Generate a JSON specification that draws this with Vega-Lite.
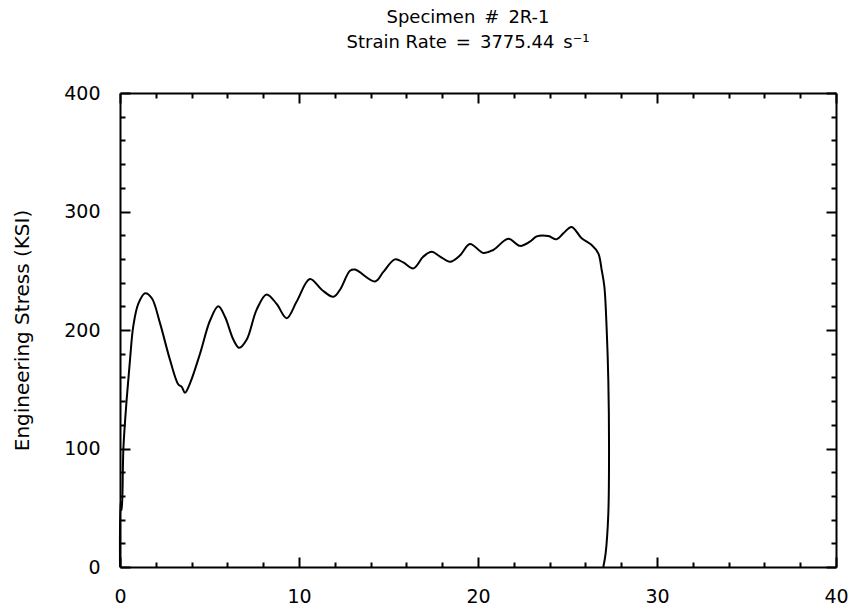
{
  "$schema": "https://vega.github.io/schema/vega-lite/v6.json",
  "autosize": {"type": "none"},
  "width": 716,
  "height": 474,
  "padding": {"left": 120, "top": 93, "right": 18, "bottom": 44},
  "background": "white",
  "config": {"view": {"stroke": null}, "font": "DejaVu Sans"},
  "title": {
    "text": ["Specimen\u2002#\u20022R-1", "Strain Rate\u2002=\u20023775.44\u2002s⁻¹"],
    "anchor": "middle",
    "frame": "group",
    "fontSize": 18,
    "fontWeight": "normal",
    "font": "DejaVu Sans",
    "color": "black",
    "lineHeight": 25,
    "offset": 32,
    "dx": -10
  },
  "data": {
    "values": [
      {"i": 0, "strain": 0, "stress": 0},
      {"i": 1, "strain": 0.03, "stress": 55},
      {"i": 2, "strain": 0.1, "stress": 48},
      {"i": 3, "strain": 0.19, "stress": 100},
      {"i": 4, "strain": 0.37, "stress": 141},
      {"i": 5, "strain": 0.56, "stress": 175},
      {"i": 6, "strain": 0.74, "stress": 203},
      {"i": 7, "strain": 1.02, "stress": 222},
      {"i": 8, "strain": 1.4, "stress": 231},
      {"i": 9, "strain": 1.77, "stress": 227},
      {"i": 10, "strain": 2.23, "stress": 206},
      {"i": 11, "strain": 2.79, "stress": 175},
      {"i": 12, "strain": 3.26, "stress": 154},
      {"i": 13, "strain": 3.45, "stress": 152},
      {"i": 14, "strain": 3.63, "stress": 147},
      {"i": 15, "strain": 3.91, "stress": 155},
      {"i": 16, "strain": 4.47, "stress": 180},
      {"i": 17, "strain": 5.03, "stress": 208},
      {"i": 18, "strain": 5.49, "stress": 220},
      {"i": 19, "strain": 5.87, "stress": 211},
      {"i": 20, "strain": 6.33, "stress": 192},
      {"i": 21, "strain": 6.66, "stress": 185},
      {"i": 22, "strain": 7.08, "stress": 192},
      {"i": 23, "strain": 7.63, "stress": 217},
      {"i": 24, "strain": 8.19, "stress": 230},
      {"i": 25, "strain": 8.75, "stress": 222},
      {"i": 26, "strain": 9.31, "stress": 210},
      {"i": 27, "strain": 9.87, "stress": 224},
      {"i": 28, "strain": 10.61, "stress": 243},
      {"i": 29, "strain": 11.27, "stress": 234},
      {"i": 30, "strain": 11.92, "stress": 228},
      {"i": 31, "strain": 12.29, "stress": 234},
      {"i": 32, "strain": 12.85, "stress": 250},
      {"i": 33, "strain": 13.13, "stress": 251},
      {"i": 34, "strain": 14.25, "stress": 241},
      {"i": 35, "strain": 14.71, "stress": 249},
      {"i": 36, "strain": 15.36, "stress": 259.6},
      {"i": 37, "strain": 15.83, "stress": 257},
      {"i": 38, "strain": 16.39, "stress": 252},
      {"i": 39, "strain": 16.95, "stress": 262},
      {"i": 40, "strain": 17.41, "stress": 266},
      {"i": 41, "strain": 17.88, "stress": 262},
      {"i": 42, "strain": 18.44, "stress": 257.6},
      {"i": 43, "strain": 19.0, "stress": 263},
      {"i": 44, "strain": 19.55, "stress": 272.6},
      {"i": 45, "strain": 20.3, "stress": 265},
      {"i": 46, "strain": 20.85, "stress": 267.5},
      {"i": 47, "strain": 21.69, "stress": 277},
      {"i": 48, "strain": 22.35, "stress": 271},
      {"i": 49, "strain": 22.9, "stress": 274.5},
      {"i": 50, "strain": 23.28, "stress": 279},
      {"i": 51, "strain": 23.93, "stress": 279.3},
      {"i": 52, "strain": 24.39, "stress": 276.5},
      {"i": 53, "strain": 24.77, "stress": 281.6},
      {"i": 54, "strain": 25.23, "stress": 287},
      {"i": 55, "strain": 25.79, "stress": 277.4},
      {"i": 56, "strain": 26.35, "stress": 271.7},
      {"i": 57, "strain": 26.72, "stress": 264.7},
      {"i": 58, "strain": 26.91, "stress": 250.6},
      {"i": 59, "strain": 27.06, "stress": 236.5},
      {"i": 60, "strain": 27.19, "stress": 200},
      {"i": 61, "strain": 27.28, "stress": 158},
      {"i": 62, "strain": 27.32, "stress": 101.5},
      {"i": 63, "strain": 27.28, "stress": 45},
      {"i": 64, "strain": 27.13, "stress": 11.5},
      {"i": 65, "strain": 27.0, "stress": 0}
    ]
  },
  "resolve": {"axis": {"x": "independent", "y": "independent"}},
  "layer": [
    {
      "mark": {"type": "line", "color": "black", "strokeWidth": 2, "interpolate": "catmull-rom"},
      "encoding": {
        "order": {"field": "i", "type": "quantitative"},
        "x": {
          "field": "strain", "type": "quantitative",
          "scale": {"domain": [0, 40], "nice": false, "zero": false},
          "axis": {
            "orient": "bottom", "title": null,
            "values": [0,2,4,6,8,10,12,14,16,18,20,22,24,26,28,30,32,34,36,38,40],
            "labelExpr": "datum.value % 10 === 0 ? datum.label : ''",
            "tickSize": {"condition": {"test": "datum.value % 10 === 0", "value": -10}, "value": -5},
            "tickWidth": 2, "tickColor": "black",
            "domainColor": "black", "domainWidth": 2,
            "labelColor": "black", "labelFontSize": 19, "labelFont": "DejaVu Sans",
            "labelPadding": 30, "grid": false, "labelFlush": false
          }
        },
        "y": {
          "field": "stress", "type": "quantitative",
          "scale": {"domain": [0, 400], "nice": false},
          "axis": {
            "orient": "left", "title": "Engineering Stress (KSI)",
            "values": [0,20,40,60,80,100,120,140,160,180,200,220,240,260,280,300,320,340,360,380,400],
            "labelExpr": "datum.value % 100 === 0 ? datum.label : ''",
            "tickSize": {"condition": {"test": "datum.value % 100 === 0", "value": -10}, "value": -5},
            "tickWidth": 2, "tickColor": "black",
            "domainColor": "black", "domainWidth": 2,
            "labelColor": "black", "labelFontSize": 19, "labelFont": "DejaVu Sans",
            "labelPadding": 30, "grid": false, "labelFlush": false,
            "titleFontSize": 20, "titleFontWeight": "normal", "titleColor": "black",
            "titleFont": "DejaVu Sans",
            "titleX": -98, "titleY": 237, "titleAngle": -90,
            "titleAlign": "center", "titleBaseline": "middle"
          }
        }
      }
    },
    {
      "mark": {"type": "line", "opacity": 0},
      "encoding": {
        "order": {"field": "i", "type": "quantitative"},
        "x": {
          "field": "strain", "type": "quantitative",
          "scale": {"domain": [0, 40], "nice": false, "zero": false},
          "axis": {
            "orient": "top", "title": null, "labels": false,
            "values": [0,2,4,6,8,10,12,14,16,18,20,22,24,26,28,30,32,34,36,38,40],
            "tickSize": {"condition": {"test": "datum.value % 10 === 0", "value": -10}, "value": -5},
            "tickWidth": 2, "tickColor": "black",
            "domainColor": "black", "domainWidth": 2, "grid": false
          }
        },
        "y": {
          "field": "stress", "type": "quantitative",
          "scale": {"domain": [0, 400], "nice": false},
          "axis": {
            "orient": "right", "title": null, "labels": false,
            "values": [0,20,40,60,80,100,120,140,160,180,200,220,240,260,280,300,320,340,360,380,400],
            "tickSize": {"condition": {"test": "datum.value % 100 === 0", "value": -10}, "value": -5},
            "tickWidth": 2, "tickColor": "black",
            "domainColor": "black", "domainWidth": 2, "grid": false
          }
        }
      }
    }
  ]
}
